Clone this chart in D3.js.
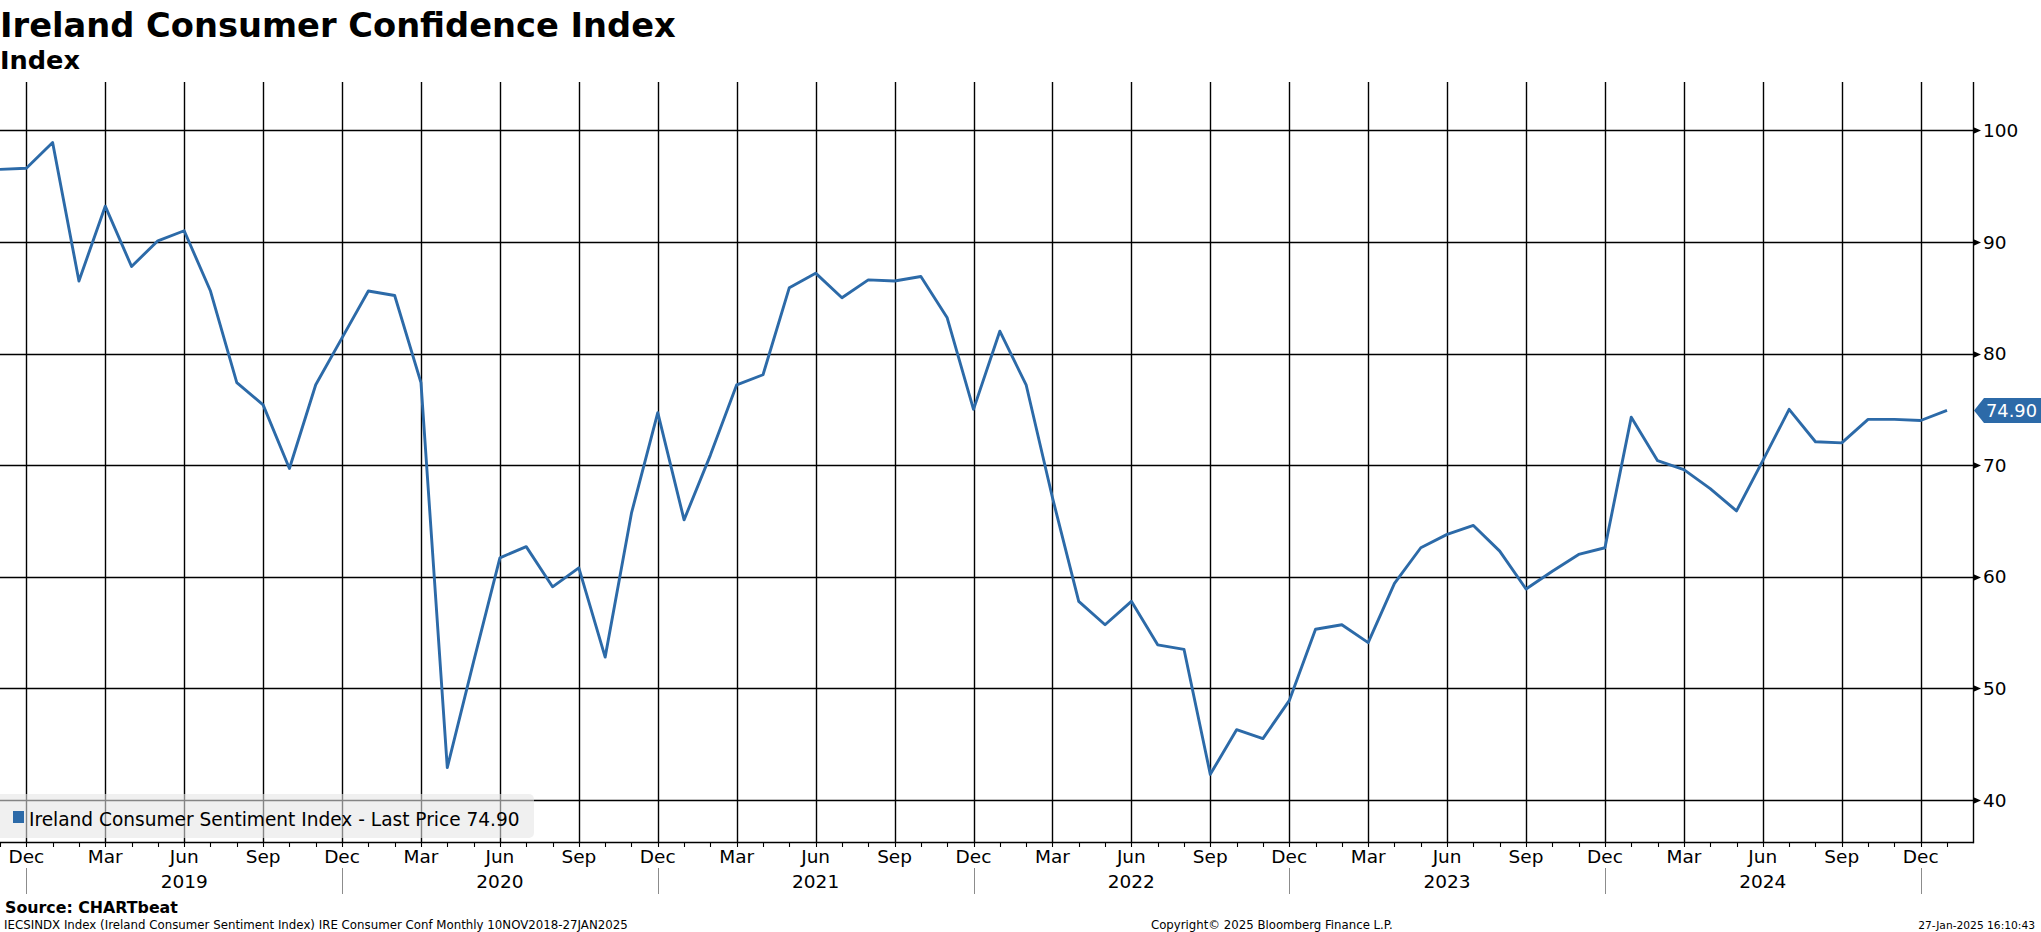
<!DOCTYPE html>
<html>
<head>
<meta charset="utf-8">
<script src="https://cdn.jsdelivr.net/npm/d3@7/dist/d3.min.js"></script>
<style>
  html, body { margin: 0; padding: 0; background: #fff; }
  svg { display: block; }
</style>
</head>
<body>
<svg id="chart" width="2041" height="932"></svg>
<script>
// ---------------- DATA ----------------
const title = "Ireland Consumer Confidence Index";
const subtitle = "Index";
const seriesName = "Ireland Consumer Sentiment Index - Last Price 74.90";
const lastPriceLabel = "74.90";
const sourceText = "Source: CHARTbeat";
const footerLeft = "IECSINDX Index (Ireland Consumer Sentiment Index) IRE Consumer Conf  Monthly 10NOV2018-27JAN2025";
const footerCenter = "Copyright\u00A9 2025 Bloomberg Finance L.P.";
const footerRight = "27-Jan-2025 16:10:43";

// monthly observations, Nov 2018 .. Jan 2025
const values = [
  96.5, 96.6, 98.9, 86.5, 93.2, 87.8, 90.1, 91.0, 85.6, 77.4,
  75.4, 69.7, 77.2, 81.4, 85.6, 85.2, 77.4, 42.9, 52.4, 61.7,
  62.7, 59.1, 60.8, 52.8, 65.7, 74.7, 65.1, 70.9, 77.2, 78.1,
  85.9, 87.2, 85.0, 86.6, 86.5, 86.9, 83.2, 75.0, 82.0, 77.2,
  67.1, 57.8, 55.7, 57.8, 53.9, 53.5, 42.3, 46.3, 45.5, 48.9,
  55.3, 55.7, 54.1, 59.4, 62.6, 63.8, 64.6, 62.3, 58.9, 60.5,
  62.0, 62.6, 74.3, 70.4, 69.6, 67.9, 65.9, 70.4, 75.0, 72.1,
  72.0, 74.1, 74.1, 74.0, 74.9
];
const months = d3.timeMonth.range(new Date(2018, 10, 1), new Date(2025, 1, 1));
const quarterMonthLabels = { 11: "Dec", 2: "Mar", 5: "Jun", 8: "Sep" };
const yearLabels = [2019, 2020, 2021, 2022, 2023, 2024];
const yTicks = [40, 50, 60, 70, 80, 90, 100];

// ---------------- LAYOUT ----------------
const W = 2041, H = 932;
const plotLeft = 0, plotRight = 1973, plotTop = 82, plotBottom = 842;
const lineColor = "#2c6aa8";
const fontMain = "'DejaVu Sans', Verdana, sans-serif";

const svg = d3.select("#chart");

const x = d3.scalePoint()
  .domain(months.map(d => +d))
  .range([0, 1947])
  .padding(0);
const y = d3.scaleLinear().domain([40, 100]).range([800, 130.3]);
const snap = v => Math.round(v) + 0.5;

function fit(sel, target) {
  const fs = parseFloat(sel.attr("font-size"));
  const len = sel.node().getComputedTextLength();
  if (len > 0) sel.attr("font-size", fs * target / len);
  return sel;
}

// ---------------- GRID ----------------
const quarterMonths = months.filter(d => quarterMonthLabels[d.getMonth()] !== undefined);

svg.append("g").selectAll("line")
  .data(quarterMonths).join("line")
  .attr("x1", d => snap(x(+d))).attr("x2", d => snap(x(+d)))
  .attr("y1", plotTop).attr("y2", plotBottom)
  .attr("stroke", "#000").attr("stroke-width", 1.4);

svg.append("g").selectAll("line")
  .data(yTicks).join("line")
  .attr("x1", plotLeft).attr("x2", plotRight)
  .attr("y1", d => snap(y(d))).attr("y2", d => snap(y(d)))
  .attr("stroke", "#000").attr("stroke-width", 1.4);

// axes frame
svg.append("line")
  .attr("x1", plotLeft).attr("x2", plotRight + 0.7)
  .attr("y1", snap(plotBottom)).attr("y2", snap(plotBottom))
  .attr("stroke", "#000").attr("stroke-width", 1.4);
svg.append("line")
  .attr("x1", snap(plotRight)).attr("x2", snap(plotRight))
  .attr("y1", plotTop).attr("y2", plotBottom + 1.2)
  .attr("stroke", "#000").attr("stroke-width", 1.4);

// monthly minor ticks
svg.append("g").selectAll("line")
  .data(months).join("line")
  .attr("x1", d => snap(x(+d))).attr("x2", d => snap(x(+d)))
  .attr("y1", plotBottom).attr("y2", plotBottom + 5)
  .attr("stroke", "#000").attr("stroke-width", 1.1);

// ---------------- LINE ----------------
const line = d3.line()
  .x((d, i) => x(+months[i]))
  .y(d => y(d));

svg.append("path")
  .datum(values)
  .attr("d", line)
  .attr("fill", "none")
  .attr("stroke", lineColor)
  .attr("stroke-width", 2.9)
  .attr("stroke-linejoin", "round");

// ---------------- LEGEND ----------------
svg.append("rect")
  .attr("x", -6).attr("y", 794).attr("width", 540).attr("height", 44)
  .attr("rx", 5)
  .attr("fill", "#e6e6e6").attr("fill-opacity", 0.58);
svg.append("rect")
  .attr("x", 13).attr("y", 811).attr("width", 11).attr("height", 12)
  .attr("fill", lineColor);
const legendText = svg.append("text")
  .attr("x", 29).attr("y", 826)
  .attr("font-family", fontMain).attr("font-size", 20)
  .attr("fill", "#000")
  .text(seriesName);
fit(legendText, 491);

// ---------------- Y AXIS LABELS ----------------
const yAxisG = svg.append("g");
yAxisG.selectAll("path")
  .data(yTicks).join("path")
  .attr("d", d => `M${plotRight},${snap(y(d)) - 3.5}L${plotRight + 8},${snap(y(d))}L${plotRight},${snap(y(d)) + 3.5}Z`)
  .attr("fill", "#000");
yAxisG.selectAll("text")
  .data(yTicks).join("text")
  .attr("x", plotRight + 10)
  .attr("y", d => y(d))
  .attr("dy", "0.36em")
  .attr("font-family", fontMain).attr("font-size", 18.5)
  .attr("fill", "#000")
  .text(d => d);

// last price tag
const lp = y(values[values.length - 1]);
svg.append("path")
  .attr("d", `M${plotRight + 1},${lp}L${plotRight + 11},${lp - 12.5}L${W},${lp - 12.5}L${W},${lp + 12.5}L${plotRight + 11},${lp + 12.5}Z`)
  .attr("fill", lineColor);
const lpText = svg.append("text")
  .attr("x", plotRight + 13).attr("y", lp)
  .attr("dy", "0.36em")
  .attr("font-family", fontMain).attr("font-size", 19)
  .attr("fill", "#fff")
  .text(lastPriceLabel);
fit(lpText, 51);

// ---------------- X AXIS LABELS ----------------
svg.append("g").selectAll("text")
  .data(quarterMonths).join("text")
  .attr("x", d => x(+d))
  .attr("y", 863)
  .attr("text-anchor", "middle")
  .attr("font-family", fontMain).attr("font-size", 18.5)
  .attr("fill", "#000")
  .text(d => quarterMonthLabels[d.getMonth()]);

const decMonths = months.filter(d => d.getMonth() === 11);
svg.append("g").selectAll("line")
  .data(decMonths).join("line")
  .attr("x1", d => snap(x(+d))).attr("x2", d => snap(x(+d)))
  .attr("y1", 868).attr("y2", 894)
  .attr("stroke", "#8c8c8c").attr("stroke-width", 1);

svg.append("g").selectAll("text")
  .data(yearLabels).join("text")
  .attr("x", d => x(+new Date(d, 5, 1)))
  .attr("y", 888)
  .attr("text-anchor", "middle")
  .attr("font-family", fontMain).attr("font-size", 18.5)
  .attr("fill", "#000")
  .text(d => d);

// ---------------- TITLES ----------------
const t1 = svg.append("text")
  .attr("x", 0).attr("y", 37)
  .attr("font-family", fontMain).attr("font-weight", "bold").attr("font-size", 34)
  .attr("fill", "#000")
  .text(title);
fit(t1, 676);
const t2 = svg.append("text")
  .attr("x", 0).attr("y", 69)
  .attr("font-family", fontMain).attr("font-weight", "bold").attr("font-size", 24)
  .attr("fill", "#000")
  .text(subtitle);
fit(t2, 80);

// ---------------- FOOTER ----------------
const src = svg.append("text")
  .attr("x", 5).attr("y", 913)
  .attr("font-family", fontMain).attr("font-weight", "bold").attr("font-size", 18)
  .attr("fill", "#000")
  .text(sourceText);
fit(src, 173);

const fl = svg.append("text")
  .attr("x", 4).attr("y", 929)
  .attr("font-family", fontMain).attr("font-size", 13)
  .attr("fill", "#000")
  .text(footerLeft);
fit(fl, 624);
const fc = svg.append("text")
  .attr("x", 1151).attr("y", 929)
  .attr("font-family", fontMain).attr("font-size", 13)
  .attr("fill", "#000")
  .text(footerCenter);
fit(fc, 242);
const fr = svg.append("text")
  .attr("x", 2035).attr("y", 929)
  .attr("text-anchor", "end")
  .attr("font-family", fontMain).attr("font-size", 13)
  .attr("fill", "#000")
  .text(footerRight);
fit(fr, 117);
</script>
</body>
</html>
